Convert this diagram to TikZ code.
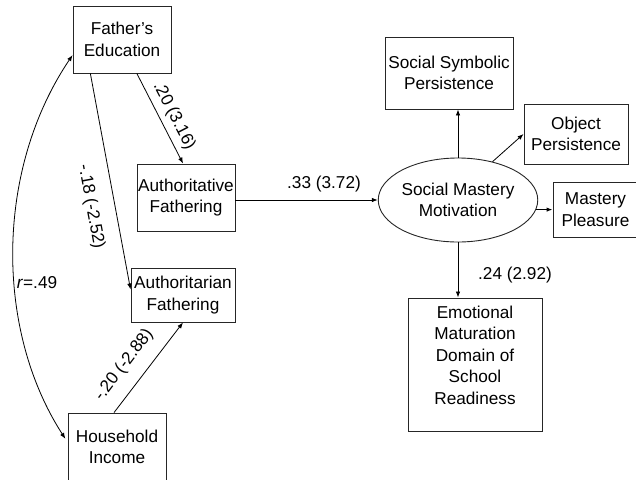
\documentclass[tikz,border=0pt]{standalone}
\usepackage{fontspec}
\setmainfont{Liberation Sans}
\usetikzlibrary{shapes.geometric,arrows.meta,calc}

\tikzset{
  txt/.style={font=\fontsize{17.2}{21.5}\selectfont, inner sep=0pt},
  varbox/.style={txt, draw=black!85, line width=0.9pt, align=center},
  latent/.style={txt, draw=black!85, line width=0.9pt, ellipse, align=center},
  path/.style={draw=black, line width=0.8pt, -{Latex[length=6pt,width=4.5pt]}},
  thickpath/.style={path, line width=1.6pt},
  coef/.style={txt}
}

\begin{document}
\begin{tikzpicture}[x=1pt,y=-1pt]
\useasboundingbox (0,0) rectangle (636,479);

% observed predictors and mediators
\node[varbox, minimum width=98pt, minimum height=67pt] (fe) at (122,39.5) {Father's\\Education};
\node[varbox, minimum width=98pt, minimum height=67pt] (av) at (186,197.5) {Authoritative\\Fathering};
\node[varbox, minimum width=104pt, minimum height=54pt] (an) at (183,295) {Authoritarian\\Fathering};
\node[varbox, minimum width=98pt, minimum height=68pt] (hi) at (117,447) {Household\\Income};

% latent construct and its indicators
\node[latent, minimum width=122pt, minimum height=84pt] (ell) at (458,200) {Social Mastery\\Motivation};
\node[varbox, minimum width=128pt, minimum height=72pt] (ssp) at (449,73) {Social Symbolic\\Persistence};
\node[varbox, minimum width=104pt, minimum height=60pt] (op) at (576,134) {Object\\Persistence};
\node[varbox, minimum width=85pt, minimum height=55pt] (mp) at (595.5,209.5) {Mastery\\Pleasure};

% outcome
\node[draw=black!85, line width=0.9pt, minimum width=134pt, minimum height=133pt] (em) at (475,364.5) {};
\node[varbox, draw=none] (emtxt) at (475,355) {Emotional\\Maturation\\Domain of\\School\\Readiness};

% structural paths
\draw[path] ($(fe.south west)!0.65!(fe.south east)$) -- ($(av.north west)!0.47!(av.north east)$);
\draw[path] ($(fe.south west)!0.18!(fe.south east)$) -- ($(an.north west)!0.4!(an.south west)$);
\draw[path] ($(hi.north west)!0.47!(hi.north east)$) -- (an.south);
\draw[path] (av.east |- ell.west) -- (ell.west);
\draw[path] (ell.south) -- (ell.south |- em.north);

% measurement paths
\draw[path] (ell.north) -- (ell.north |- ssp.south);
\draw[path] (ell.48) -- (op.west);
\draw[thickpath] (ell.-7) -- (ell.-7 -| mp.west);

% correlation between the exogenous variables
\draw[path, {Latex[length=6pt,width=4.5pt]}-{Latex[length=6pt,width=4.5pt]}, shorten <=4pt]
  ($(hi.north west)!0.43!(hi.south west)$) .. controls (-5,330) and (-5,170) .. ($(fe.north west)!0.73!(fe.south west)$);

% coefficients
\node[coef, rotate=-62.9] (c1) at (174,116) {.20 (3.16)};
\node[coef, rotate=-79.5] (c2) at (91,207) {-.18 (-2.52)};
\node[coef, rotate=52.8] (c3) at (124,365) {-.20 (-2.88)};
\node[coef] (c4) at (324,184) {.33 (3.72)};
\node[coef] (c5) at (515,275) {.24 (2.92)};
\node[coef] (c6) at (37,283) {\textit{r}=.49};
\end{tikzpicture}
\end{document}
